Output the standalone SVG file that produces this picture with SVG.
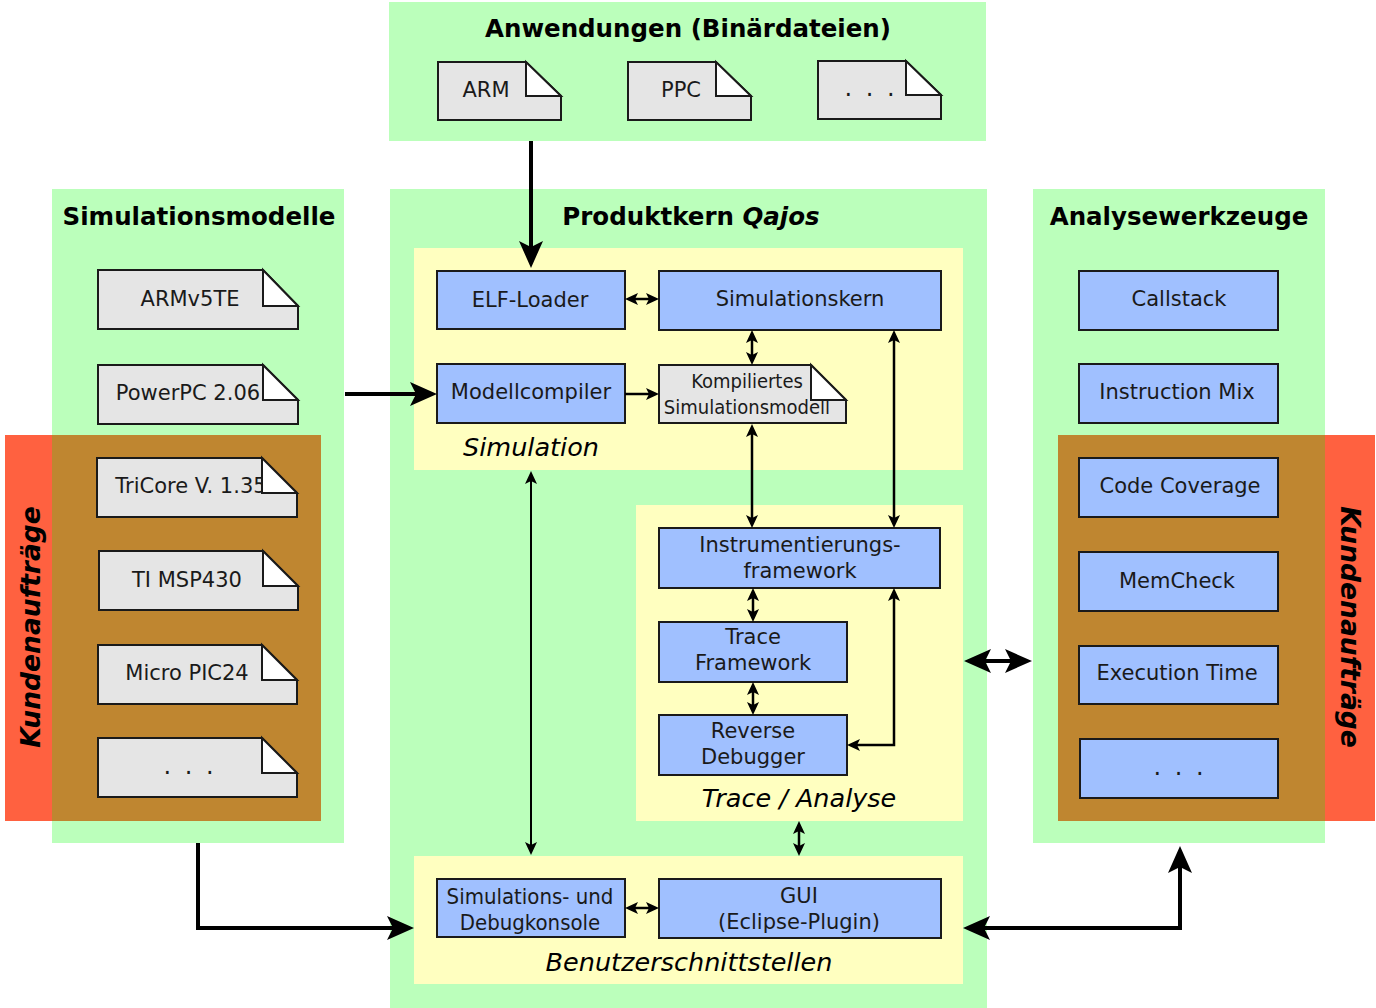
<svg xmlns="http://www.w3.org/2000/svg" width="1376" height="1008" viewBox="0 0 1376 1008">
<style>
.panel{fill:#bbffbb}
.area{fill:#ffffc0}
.red{fill:#ff6140}
.brown{fill:#bf8630}
.box{fill:#a0c0ff;stroke:#1a1a1a;stroke-width:2}
.doc{fill:#e5e5e5;stroke:#1a1a1a;stroke-width:2;stroke-linejoin:miter}
.fold{fill:#ffffff;stroke:#1a1a1a;stroke-width:2;stroke-linejoin:miter}
text{font-family:"DejaVu Sans",Verdana,sans-serif;fill:#1a1a1a;text-anchor:middle;dominant-baseline:central}
.lbl{font-size:21px}
.cond{font-family:"DejaVu Sans Condensed","DejaVu Sans",sans-serif;font-stretch:condensed;font-size:20px}
.cond2{font-family:"DejaVu Sans Condensed","DejaVu Sans",sans-serif;font-stretch:condensed;font-size:22px}
.title{font-size:24.5px;font-weight:bold;fill:#000}
.ital{font-size:25.5px;font-style:italic;fill:#000}
.kunde{font-size:26.5px;font-weight:bold;font-style:italic;fill:#000}
.dots{font-size:24px;letter-spacing:3px}
.thick{fill:none;stroke:#000;stroke-width:4}
.thin{fill:none;stroke:#000;stroke-width:2.5}
.hair{fill:none;stroke:#000;stroke-width:2}
</style>
<defs>
<marker id="big" markerUnits="userSpaceOnUse" markerWidth="30" markerHeight="26" refX="6" refY="12" orient="auto-start-reverse">
<path d="M0,0 L27,12 L0,24 L6,12 z" fill="#000"/>
</marker>
<marker id="sm" markerUnits="userSpaceOnUse" markerWidth="16" markerHeight="14" refX="3" refY="6" orient="auto-start-reverse">
<path d="M0,0 L13,6 L0,12 L3,6 z" fill="#000"/>
</marker>
</defs>

<!-- panels -->
<g id="panel-anwendungen">
<rect class="panel" x="389" y="2" width="597" height="139"/>
<text class="title" x="688" y="28">Anwendungen (Binärdateien)</text>
</g>
<g id="panel-simulationsmodelle">
<rect class="panel" x="52" y="189" width="292" height="654"/>
<text class="title" x="199" y="216">Simulationsmodelle</text>
</g>
<g id="panel-produktkern">
<rect class="panel" x="390" y="189" width="597" height="819"/>
<text class="title" x="691" y="216">Produktkern <tspan font-style="italic">Qajos</tspan></text>
</g>
<g id="panel-analysewerkzeuge">
<rect class="panel" x="1033" y="189" width="292" height="654"/>
<text class="title" x="1179" y="216">Analysewerkzeuge</text>
</g>

<g id="kunden-left">
<rect class="red" x="5" y="435" width="47" height="386"/>
<rect class="brown" x="52" y="435" width="269" height="386"/>
<text class="kunde" transform="translate(30,627) rotate(-90)" x="0" y="0">Kundenaufträge</text>
</g>
<g id="kunden-right">
<rect class="brown" x="1058" y="435" width="267" height="386"/>
<rect class="red" x="1325" y="435" width="50" height="386"/>
<text class="kunde" transform="translate(1350,627) rotate(90)" x="0" y="0">Kundenaufträge</text>
</g>

<g id="area-simulation">
<rect class="area" x="414" y="248" width="549" height="222"/>
<text class="ital" x="531" y="447">Simulation</text>
</g>
<g id="area-trace">
<rect class="area" x="636" y="505" width="327" height="316"/>
<text class="ital" x="799" y="798">Trace / Analyse</text>
</g>
<g id="area-benutzer">
<rect class="area" x="414" y="856" width="549" height="128"/>
<text class="ital" x="689" y="962">Benutzerschnittstellen</text>
</g>

<!-- application docs -->
<g id="doc-arm">
<path class="doc" d="M438,62 H526 L561,96 V120 H438 Z"/>
<text class="lbl" x="486" y="90">ARM</text>
<path class="fold" d="M526,62 V96 H561 Z"/>
</g>
<g id="doc-ppc">
<path class="doc" d="M628,62 H716 L751,96 V120 H628 Z"/>
<text class="lbl" x="681" y="90">PPC</text>
<path class="fold" d="M716,62 V96 H751 Z"/>
</g>
<g id="doc-more-app">
<path class="doc" d="M818,61 H906 L941,95 V119 H818 Z"/>
<text class="dots" x="871" y="88">. . .</text>
<path class="fold" d="M906,61 V95 H941 Z"/>
</g>

<!-- simulation model docs -->
<g id="doc-armv5te">
<path class="doc" d="M98,270 H263 L298,306 V329 H98 Z"/>
<text class="lbl" x="190" y="299">ARMv5TE</text>
<path class="fold" d="M263,270 V306 H298 Z"/>
</g>
<g id="doc-powerpc">
<path class="doc" d="M98,365 H263 L298,400 V424 H98 Z"/>
<text class="lbl" x="188" y="393">PowerPC 2.06</text>
<path class="fold" d="M263,365 V400 H298 Z"/>
</g>
<g id="doc-tricore">
<path class="doc" d="M97,458 H262 L297,493 V517 H97 Z"/>
<text class="lbl" x="191" y="486">TriCore V. 1.35</text>
<path class="fold" d="M262,458 V493 H297 Z"/>
</g>
<g id="doc-msp430">
<path class="doc" d="M99,551 H263 L298,586 V610 H99 Z"/>
<text class="lbl" x="187" y="580">TI MSP430</text>
<path class="fold" d="M263,551 V586 H298 Z"/>
</g>
<g id="doc-pic24">
<path class="doc" d="M98,645 H262 L297,680 V704 H98 Z"/>
<text class="lbl" x="187" y="673">Micro PIC24</text>
<path class="fold" d="M262,645 V680 H297 Z"/>
</g>
<g id="doc-more-model">
<path class="doc" d="M98,738 H262 L297,773 V797 H98 Z"/>
<text class="dots" x="190" y="766">. . .</text>
<path class="fold" d="M262,738 V773 H297 Z"/>
</g>

<!-- core nodes -->
<g id="elf-loader">
<rect class="box" x="437" y="271" width="188" height="58"/>
<text class="lbl" x="530" y="300">ELF-Loader</text>
</g>
<g id="simulationskern">
<rect class="box" x="659" y="271" width="282" height="59"/>
<text class="lbl" x="800" y="299">Simulationskern</text>
</g>
<g id="modellcompiler">
<rect class="box" x="437" y="364" width="188" height="59"/>
<text class="lbl" x="531" y="392">Modellcompiler</text>
</g>
<g id="kompiliertes-modell">
<path class="doc" d="M659,365 H811 L846,400 V423 H659 Z"/>
<text class="cond" x="747" y="381">Kompiliertes</text>
<text class="cond" x="747" y="407">Simulationsmodell</text>
<path class="fold" d="M811,365 V400 H846 Z"/>
</g>
<g id="instrumentierung">
<rect class="box" x="659" y="528" width="281" height="60"/>
<text class="lbl" x="800" y="545">Instrumentierungs-</text>
<text class="lbl" x="800" y="571">framework</text>
</g>
<g id="trace-framework">
<rect class="box" x="659" y="622" width="188" height="60"/>
<text class="lbl" x="753" y="637">Trace</text>
<text class="lbl" x="753" y="663">Framework</text>
</g>
<g id="reverse-debugger">
<rect class="box" x="659" y="715" width="188" height="60"/>
<text class="lbl" x="753" y="731">Reverse</text>
<text class="lbl" x="753" y="757">Debugger</text>
</g>
<g id="debugkonsole">
<rect class="box" x="437" y="879" width="188" height="58"/>
<text class="cond2" x="530" y="896">Simulations- und</text>
<text class="cond2" x="530" y="922">Debugkonsole</text>
</g>
<g id="gui">
<rect class="box" x="659" y="879" width="282" height="59"/>
<text class="lbl" x="799" y="896">GUI</text>
<text class="lbl" x="799" y="922">(Eclipse-Plugin)</text>
</g>

<!-- analysis tools -->
<g id="callstack">
<rect class="box" x="1079" y="271" width="199" height="59"/>
<text class="lbl" x="1179" y="299">Callstack</text>
</g>
<g id="instruction-mix">
<rect class="box" x="1079" y="364" width="199" height="59"/>
<text class="lbl" x="1177" y="392">Instruction Mix</text>
</g>
<g id="code-coverage">
<rect class="box" x="1079" y="458" width="199" height="59"/>
<text class="lbl" x="1180" y="486">Code Coverage</text>
</g>
<g id="memcheck">
<rect class="box" x="1079" y="552" width="199" height="59"/>
<text class="lbl" x="1177" y="581">MemCheck</text>
</g>
<g id="execution-time">
<rect class="box" x="1079" y="646" width="199" height="58"/>
<text class="lbl" x="1177" y="673">Execution Time</text>
</g>
<g id="more-tools">
<rect class="box" x="1080" y="739" width="198" height="59"/>
<text class="dots" x="1180" y="767">. . .</text>
</g>

<!-- connectors -->
<g id="connectors">
<path class="thick" d="M531,141 V247" marker-end="url(#big)"/>
<path class="thick" d="M345,394 H416" marker-end="url(#big)"/>
<path class="thick" d="M198,843 V928 H393" marker-end="url(#big)"/>
<path class="thick" d="M984,928 H1180 V867" marker-start="url(#big)" marker-end="url(#big)"/>
<path class="thick" d="M985,661 H1011" marker-start="url(#big)" marker-end="url(#big)"/>
<path class="thin" d="M635,299 H649" marker-start="url(#sm)" marker-end="url(#sm)"/>
<path class="thin" d="M625,394 H649" marker-end="url(#sm)"/>
<path class="thin" d="M752,340 V355" marker-start="url(#sm)" marker-end="url(#sm)"/>
<path class="thin" d="M752,434 V518" marker-start="url(#sm)" marker-end="url(#sm)"/>
<path class="thin" d="M894,340 V518" marker-start="url(#sm)" marker-end="url(#sm)"/>
<path class="thin" d="M753,598 V612" marker-start="url(#sm)" marker-end="url(#sm)"/>
<path class="thin" d="M753,692 V705" marker-start="url(#sm)" marker-end="url(#sm)"/>
<path class="thin" d="M894,598 V745 H857" marker-start="url(#sm)" marker-end="url(#sm)"/>
<path class="hair" d="M531,481 V845" marker-start="url(#sm)" marker-end="url(#sm)"/>
<path class="thin" d="M799,831 V846" marker-start="url(#sm)" marker-end="url(#sm)"/>
<path class="thin" d="M635,908 H649" marker-start="url(#sm)" marker-end="url(#sm)"/>
</g>
</svg>
